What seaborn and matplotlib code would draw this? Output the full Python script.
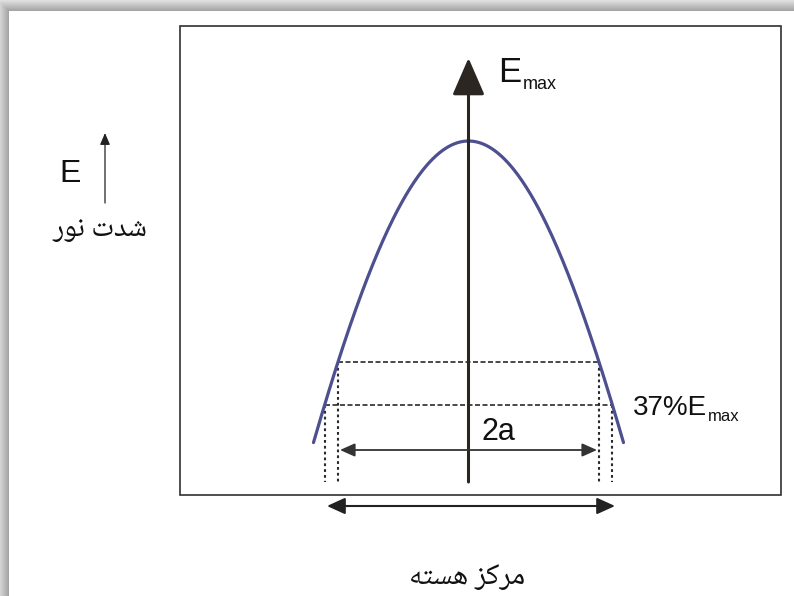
import numpy as np
import matplotlib
matplotlib.use("Agg")
import matplotlib.pyplot as plt
from matplotlib.patches import Rectangle
import seaborn as sns

sns.set_theme(style="white")
plt.rcParams['font.family'] = ['Liberation Sans', 'DejaVu Sans']
plt.rcParams['lines.scale_dashes'] = False

# values, pixel frame (y grows downwards)
centre_x = 468.5            # beam axis
peak_y = 141                # top of the profile (E_max)
profile_depth = 1442        # gaussian depth of the drawn profile
profile_width = 320         # gaussian width of the drawn profile
curve_half_span = 155       # curve drawn this far either side of the axis
dash_levels = [362, 405]    # upper dashed line, 37% E_max line
dotted_bottom = 482
axis_top = 58
arrow_2a_y = 450
span_arrow_y = 506
span_arrow_x = [327, 615]
left_arrow_x = 105
left_arrow_y = [203, 133]
box_x = [180, 781]
box_y = [26, 495]
card_corner = [9, 11]

# texts: Persian written in presentation forms, visual order
label_intensity = "\ufead\ufeee\ufee7 \ufe95\ufeaa\ufeb7"   # شدت نور
label_core = "\ufeea\ufe98\ufeb4\ufeeb \ufeb0\ufb90\ufeae\ufee3"  # مرکز هسته
label_37 = "37%E"
label_sub = "max"
label_2a = "2a"
persian_fonts = ['Noto Naskh Arabic', 'Noto Sans Arabic', 'DejaVu Sans']

curve_col = "#4d4f8f"
ink = "#2a2a2a"


def profile(x):
    return peak_y + profile_depth * (1 - np.exp(-((x - centre_x) / profile_width) ** 2))


def half_width(level):
    return profile_width * np.sqrt(-np.log(1 - (level - peak_y) / profile_depth))


W, H = 794, 596
fig = plt.figure(figsize=(W / 100, H / 100), dpi=100)
ax = fig.add_axes([0, 0, 1, 1])
ax.set_xlim(0, W)
ax.set_ylim(H, 0)
ax.axis('off')

# grey page with a soft shadow round the white card
yy, xx = np.mgrid[0:H, 0:W]
dist = np.maximum(card_corner[0] - xx, card_corner[1] - yy).astype(float)
shade = np.where(dist > 0, 0.62 + 0.26 * np.clip(dist / 11, 0, 1), 1.0)
ax.imshow(np.dstack([shade] * 3), extent=(0, W, H, 0), aspect='auto', zorder=0,
          interpolation='bilinear')

# frame
ax.add_patch(Rectangle((box_x[0], box_y[0]), box_x[1] - box_x[0], box_y[1] - box_y[0],
                       fill=False, ec="#303030", lw=1.2, zorder=2))

# intensity profile
xs = np.linspace(centre_x - curve_half_span, centre_x + curve_half_span, 300)
sns.lineplot(x=xs, y=profile(xs), ax=ax, color=curve_col, lw=2.3,
             sort=False, estimator=None, zorder=4)

# dashed levels and dotted drops
for lvl in dash_levels:
    hw = half_width(lvl)
    ax.plot([centre_x - hw, centre_x + hw], [lvl, lvl], color=ink, lw=1.2,
            ls=(0, (3.6, 1.8)), zorder=3)
    for sx in (-1, 1):
        ax.plot([centre_x + sx * hw] * 2, [lvl, dotted_bottom], color=ink, lw=1.5,
                ls=(0, (2.0, 2.2)), zorder=3)

# beam axis with E_max arrow
ax.annotate("", xy=(centre_x, axis_top), xytext=(centre_x, dotted_bottom),
            arrowprops=dict(arrowstyle="-|>,head_length=2.3,head_width=1.0",
                            mutation_scale=10, lw=2.2, color="#2b2622",
                            shrinkA=0, shrinkB=0), zorder=5)
t_top = ax.text(498, 82, "E", fontsize=25, color="#111111", ha='left', va='baseline')
ax.annotate(label_sub, xy=(1, 0), xycoords=t_top, xytext=(1, 0),
            textcoords='offset points', fontsize=13, color="#111111",
            ha='left', va='baseline')

# 2a arrow
hw_in = half_width(dash_levels[0])
ax.annotate("", xy=(centre_x - hw_in + 2, arrow_2a_y), xytext=(centre_x + hw_in - 2, arrow_2a_y),
            arrowprops=dict(arrowstyle="<|-|>,head_length=0.9,head_width=0.4",
                            mutation_scale=10, lw=1.3, color="#333333",
                            shrinkA=0, shrinkB=0), zorder=5)
ax.text(498, 432, label_2a, fontsize=22, color="#111111", ha='center', va='center')

# 37% E_max label
t37 = ax.text(633, 415, label_37, fontsize=20, color="#111111", ha='left', va='baseline')
ax.annotate(label_sub, xy=(1, 0), xycoords=t37, xytext=(0.5, 0),
            textcoords='offset points', fontsize=12, color="#111111",
            ha='left', va='baseline')

# span arrow below frame
ax.annotate("", xy=(span_arrow_x[0], span_arrow_y), xytext=(span_arrow_x[1], span_arrow_y),
            arrowprops=dict(arrowstyle="<|-|>,head_length=1.1,head_width=0.5",
                            mutation_scale=10, lw=1.5, color="#222222",
                            shrinkA=0, shrinkB=0), zorder=5)
ax.text(467, 576, label_core, fontsize=21.5, color="#111111", ha='center', va='center',
        family=persian_fonts)

# left E arrow and label
ax.annotate("", xy=(left_arrow_x, left_arrow_y[1]), xytext=(left_arrow_x, left_arrow_y[0]),
            arrowprops=dict(arrowstyle="-|>,head_length=0.7,head_width=0.3",
                            mutation_scale=10, lw=0.9, color="#222222",
                            shrinkA=0, shrinkB=0), zorder=5)
ax.text(70.5, 174, "E", fontsize=23, color="#111111", ha='center', va='center')
ax.text(100, 228, label_intensity, fontsize=21, color="#111111", ha='center', va='center',
        family=persian_fonts)

fig.savefig("out.png", dpi=100)
